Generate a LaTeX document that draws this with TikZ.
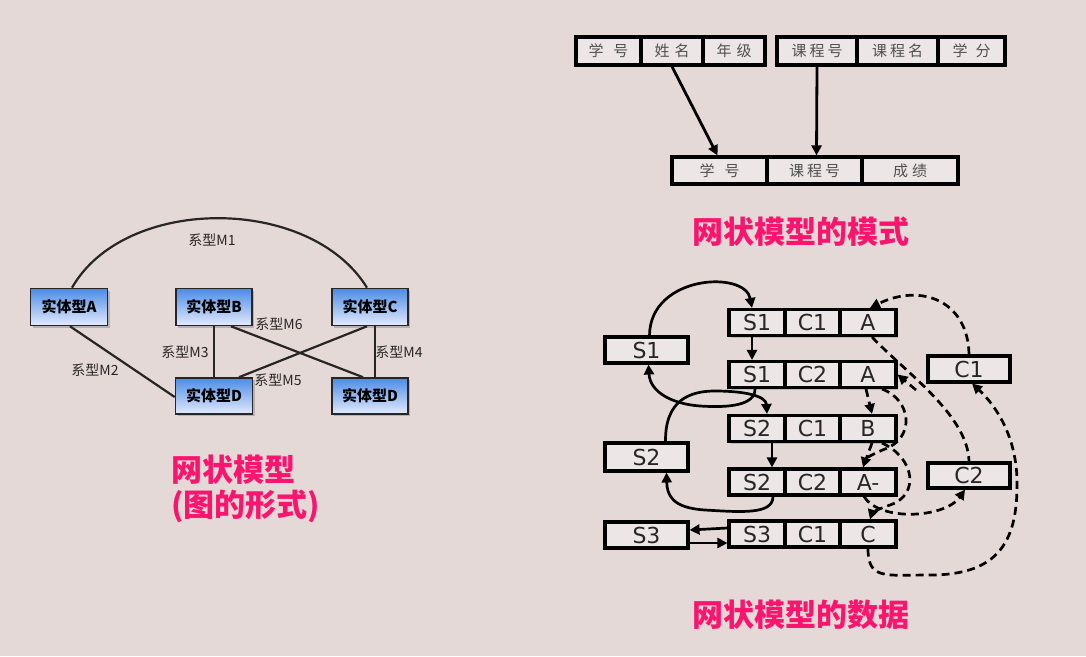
\documentclass[tikz,border=0pt]{standalone}
\usepackage{fontspec}
\newfontfamily\cjk{Noto Sans CJK SC}
\newfontfamily\dv{DejaVu Sans}
\usetikzlibrary{arrows.meta,shadows}
\definecolor{bgc}{RGB}{228,217,215}
\definecolor{ttlpink}{RGB}{250,20,110}
\definecolor{entTop}{RGB}{75,140,230}
\definecolor{entBot}{RGB}{228,234,252}
\definecolor{cellbg}{RGB}{236,230,230}
\definecolor{schtxt}{RGB}{80,80,80}
\begin{document}
\begin{tikzpicture}[x=1pt,y=-1pt,
 ent/.style={draw=black!85, line width=1.6pt, minimum width=77pt, minimum height=37pt, inner sep=0pt,
   top color=entTop, bottom color=entBot,
   drop shadow={shadow xshift=2pt,shadow yshift=-2pt,fill=black!45},
   font=\cjk\bfseries\fontsize{15}{16}\selectfont},
 rel/.style={line width=2.2pt, draw=black!85},
 rlab/.style={font=\cjk\fontsize{14}{15}\selectfont, text=black!85, inner sep=1pt},
 sch/.style={draw, line width=3.2pt, fill=cellbg, inner sep=0pt, minimum height=28pt,
   font=\cjk\fontsize{15}{16}\selectfont, text=schtxt,
   drop shadow={shadow xshift=2pt,shadow yshift=-2pt,fill=black!40}},
 cell/.style={draw, line width=3.1pt, fill=cellbg, inner sep=0pt, minimum height=26pt,
   font=\dv\fontsize{22}{24}\selectfont, text=black!85,
   drop shadow={shadow xshift=2pt,shadow yshift=-2pt,fill=black!40}},
 tip/.style={-{Triangle[length=10pt,width=10pt]}},
 arr/.style={line width=2.7pt, tip},
 dsh/.style={line width=2.7pt, dash pattern=on 8pt off 5pt},
 titletext/.style={text=ttlpink, inner sep=0pt, font=\cjk\bfseries\fontsize{31}{36}\selectfont}
]
\fill[bgc] (0,0) rectangle (1086,656);
\useasboundingbox (0,0) rectangle (1086,656);

% ---------- left: network as graph ----------
\node[ent] (eA) at (69,307) {实体型A};
\node[ent, minimum width=76pt] (eB) at (214,307) {实体型B};
\node[ent, minimum width=76pt] (eC) at (370,307) {实体型C};
\node[ent, minimum height=36pt] (eD1) at (214,396) {实体型D};
\node[ent, minimum width=76pt, minimum height=36pt] (eD2) at (370,396) {实体型D};

\draw[rel] ([xshift=3pt]eA.north) .. controls (125,195) and (310,195) .. ([xshift=-3pt]eC.north);
\node[rlab] (m1) at (212,240) {系型M1};
\draw[rel] ([xshift=1pt]eA.south) -- ([yshift=-1pt]eD1.west);
\node[rlab] (m2) at (95,370) {系型M2};
\draw[rel, line width=1.4pt] (eB.south) -- (eD1.north);
\node[rlab] (m3) at (185,352) {系型M3};
\draw[rel, line width=1.4pt] ([xshift=5pt]eC.south) -- ([xshift=5pt]eD2.north);
\node[rlab] (m4) at (399,352) {系型M4};
\draw[rel] ([xshift=25pt]eD1.north) -- ([xshift=-3pt]eC.south);
\node[rlab] (m5) at (278,380) {系型M5};
\draw[rel] ([xshift=17pt]eB.south) -- ([xshift=-7pt]eD2.north);
\node[rlab] (m6) at (279,324) {系型M6};

\node[titletext, anchor=west] (lt1) at (171,470) {网状模型};
\node[titletext, anchor=west] (lt2) at (171,506) {(图的形式)};

% ---------- top right: schema ----------
\node[sch, minimum width=65pt] (t1a) at (608.5,51) {学\hspace{10pt}号};
\node[sch, minimum width=62pt] (t1b) at (672,51) {姓\hspace{5pt}名};
\node[sch, minimum width=62pt] (t1c) at (734,51) {年\hspace{5pt}级};
\node[sch, minimum width=80pt] (t2a) at (817,51) {课\hspace{3pt}程\hspace{3pt}号};
\node[sch, minimum width=81pt] (t2b) at (897.5,51) {课\hspace{3pt}程\hspace{3pt}名};
\node[sch, minimum width=67pt] (t2c) at (971.5,51) {学\hspace{8pt}分};
\node[sch, minimum width=95pt, minimum height=27pt] (t3a) at (719.5,170.5) {学\hspace{10pt}号};
\node[sch, minimum width=95pt, minimum height=27pt] (t3b) at (814.5,170.5) {课\hspace{3pt}程\hspace{3pt}号};
\node[sch, minimum width=96pt, minimum height=27pt] (t3c) at (910,170.5) {成\hspace{4pt}绩};
\draw[arr, line width=2.8pt] (t1b.south) -- ([xshift=-2pt]t3a.north);
\draw[arr, line width=2.8pt] (t2a.south) -- ([xshift=2pt]t3b.north);
\node[titletext] (rt1) at (801,232) {网状模型的模式};

% ---------- bottom right: data ----------
\node[cell, minimum width=56pt] (r1s) at (757,322.5) {S1};
\node[cell, minimum width=55pt] (r1c) at (812.5,322.5) {C1};
\node[cell, minimum width=56pt] (r1g) at (868,322.5) {A};
\node[cell, minimum width=56pt] (r2s) at (757,374.5) {S1};
\node[cell, minimum width=55pt] (r2c) at (812.5,374.5) {C2};
\node[cell, minimum width=56pt] (r2g) at (868,374.5) {A};
\node[cell, minimum width=56pt] (r3s) at (757,428.5) {S2};
\node[cell, minimum width=55pt] (r3c) at (812.5,428.5) {C1};
\node[cell, minimum width=56pt] (r3g) at (868,428.5) {B};
\node[cell, minimum width=56pt] (r4s) at (757,482) {S2};
\node[cell, minimum width=55pt] (r4c) at (812.5,482) {C2};
\node[cell, minimum width=56pt] (r4g) at (868,482) {A-};
\node[cell, minimum width=56pt] (r5s) at (757,534) {S3};
\node[cell, minimum width=55pt] (r5c) at (812.5,534) {C1};
\node[cell, minimum width=56pt] (r5g) at (868,534) {C};

\node[cell, minimum width=83pt] (sb1) at (646.5,350) {S1};
\node[cell, minimum width=83pt, minimum height=28pt] (sb2) at (646.5,457) {S2};
\node[cell, minimum width=83pt] (sb3) at (646.5,535) {S3};
\node[cell, minimum width=82pt] (cb1) at (969,369) {C1};
\node[cell, minimum width=82pt, minimum height=25pt] (cb2) at (969,475.5) {C2};

% solid student chains
\draw[arr] ([xshift=3pt]sb1.north) .. controls (650,275) and (745,270) .. ([xshift=-5pt]r1s.north);
\draw[arr] ([xshift=-5pt]r1s.south) -- ([xshift=-5pt]r2s.north);
\draw[arr] ([xshift=-2pt]r2s.south) .. controls (755,405) and (730,408) .. (700,406)
   .. controls (672,404) and (650,392) .. ([xshift=2pt]sb1.south);
\draw[arr] ([xshift=19pt]sb2.north) .. controls (665,400) and (690,391) .. (715,391)
   .. controls (745,391) and (766,396) .. ([xshift=10pt]r3s.north);
\draw[arr] ([xshift=15pt]r3s.south) -- ([xshift=15pt]r4s.north);
\draw[arr] ([xshift=16pt]r4s.south) .. controls (773,515) and (740,512) .. (705,510)
   .. controls (672,508) and (667,495) .. ([xshift=20pt]sb2.south);
\draw[arr] ([yshift=6pt]r5s.west) -- ([yshift=5pt]sb3.east);
\draw[arr] ([yshift=-8pt]sb3.east) -- ([yshift=-9pt]r5s.west);

% dashed course chains
\draw[dsh, tip] (cb1.north) .. controls (968,300) and (920,283) .. ([xshift=2pt]r1g.north);
\draw[dsh] ([xshift=4pt]r1g.south) .. controls (905,372) and (968,415) .. (cb2.north);
\coordinate (xc) at (916,390);
\draw[dsh, tip] (xc) -- (r2g.east);
\draw[dsh, tip] ([xshift=-2pt]r2g.south) -- ([xshift=4pt]r3g.north);
\draw[dsh, tip] ([xshift=14pt]r2g.south) .. controls (912,400) and (915,438) .. (885,449)
   .. controls (875,453) and (866,458) .. ([xshift=-5pt]r4g.north);
\draw[dsh] ([xshift=4pt]r3g.south) -- ([xshift=-5pt]r4g.north);
\draw[dsh, tip] ([xshift=14pt]r3g.south) .. controls (915,458) and (920,495) .. (890,505)
   .. controls (878,509) and (872,513) .. ([xshift=2pt]r5g.north);
\draw[dsh, tip] ([xshift=-4pt]r4g.south) .. controls (880,522) and (945,518) .. ([xshift=-4pt]cb2.south);
\draw[dsh, tip] (r5g.south) .. controls (868,580) and (885,575) .. (930,575)
   .. controls (1000,575) and (1018,540) .. (1017,480)
   .. controls (1016,430) and (990,400) .. ([xshift=3pt]cb1.south);

\node[titletext] (rt2) at (801,615) {网状模型的数据};
\end{tikzpicture}
\end{document}
